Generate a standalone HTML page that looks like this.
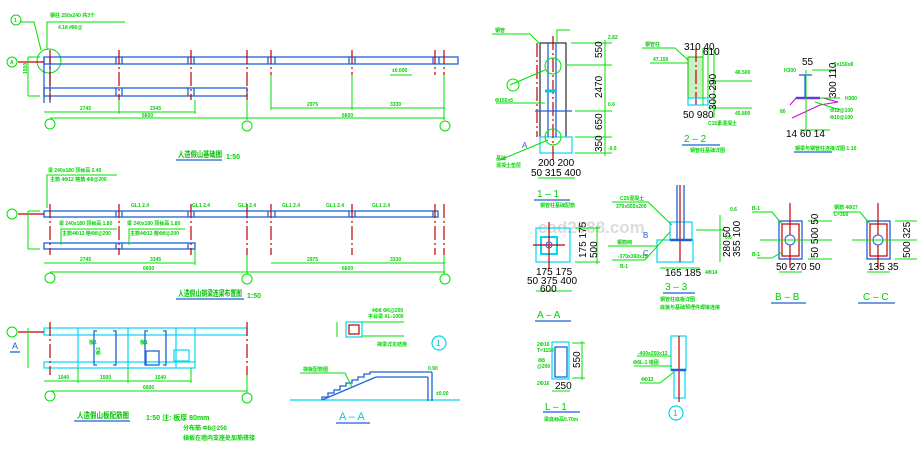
<!DOCTYPE html>
<html><head><meta charset="utf-8"><style>
html,body{margin:0;padding:0;background:#fff;width:917px;height:451px;overflow:hidden}
svg{display:block}
text{font-family:"Liberation Sans","Noto Sans CJK SC",sans-serif}
.g{stroke:#00e000;fill:none;stroke-width:1}
.b{stroke:#1f62d6;fill:none;stroke-width:1.3}
.c{stroke:#00d8f0;fill:none;stroke-width:1.2}
.r{stroke:#c00000;fill:none;stroke-width:1.2}
.rd{stroke:#c00000;fill:none;stroke-width:1.2;stroke-dasharray:14 3 2 3}
.t{fill:#00d000;font-size:5px;font-weight:bold}
.tl{fill:#00d000;font-size:10px}
.tt{fill:#00c000;font-size:8px;font-weight:bold}
.bl{fill:#1f62d6}
</style></head><body>
<svg width="917" height="451" viewBox="0 0 917 451" xmlns="http://www.w3.org/2000/svg">
<text x="538" y="233" font-size="17" fill="#dcdcdc" font-weight="bold">cad2688.com</text>

<!-- ===== PLAN 1 ===== -->
<circle class="g" cx="16" cy="20" r="5"/><text class="t" x="14" y="22">1</text>
<polyline class="g" points="21,22 34,22 41,50"/>
<circle class="g" cx="49" cy="61" r="12"/>
<polyline class="g" points="47,50 47,22 125,22"/>
<text class="t" x="50" y="17">钢柱 250x240 共3个</text>
<text class="t" x="58" y="29">4.18 #80@</text>
<rect class="b" x="44" y="57" width="414" height="7"/>
<rect class="b" x="44" y="88" width="203" height="8"/>
<line class="b" x1="44" y1="57" x2="44" y2="103"/><line class="b" x1="50" y1="57" x2="50" y2="103"/>
<g class="b"><line x1="116" y1="57" x2="116" y2="64"/><line x1="122" y1="57" x2="122" y2="64"/><line x1="188" y1="57" x2="188" y2="64"/><line x1="194" y1="57" x2="194" y2="64"/><line x1="268" y1="57" x2="268" y2="64"/><line x1="275" y1="57" x2="275" y2="64"/><line x1="349" y1="57" x2="349" y2="64"/><line x1="355" y1="57" x2="355" y2="64"/><line x1="433" y1="57" x2="433" y2="64"/><line x1="439" y1="57" x2="439" y2="64"/><line x1="116" y1="88" x2="116" y2="96"/><line x1="122" y1="88" x2="122" y2="96"/><line x1="188" y1="88" x2="188" y2="96"/><line x1="194" y1="88" x2="194" y2="96"/></g>
<g class="rd"><line x1="50" y1="50" x2="50" y2="100"/><line x1="119" y1="50" x2="119" y2="100"/><line x1="191" y1="50" x2="191" y2="100"/><line x1="247" y1="50" x2="247" y2="100"/><line x1="271" y1="50" x2="271" y2="75"/><line x1="352" y1="50" x2="352" y2="75"/><line x1="435" y1="50" x2="435" y2="75"/><line x1="444" y1="50" x2="444" y2="75"/></g>
<line class="r" x1="18" y1="62" x2="44" y2="62"/>
<circle class="g" cx="12" cy="62" r="5"/><text class="t" x="10" y="64">A</text>
<g class="g"><line x1="28" y1="57" x2="28" y2="96"/><line x1="28" y1="57" x2="40" y2="57"/><line x1="28" y1="96" x2="40" y2="96"/>
<line x1="44" y1="112" x2="195" y2="112"/><line x1="50" y1="118" x2="445" y2="118"/><line x1="271" y1="108" x2="445" y2="108"/>
<line x1="119" y1="100" x2="119" y2="114"/><line x1="195" y1="100" x2="195" y2="114"/><line x1="247" y1="100" x2="247" y2="120"/><line x1="352" y1="75" x2="352" y2="110"/><line x1="271" y1="75" x2="271" y2="110"/><line x1="444" y1="75" x2="444" y2="120"/>
<line x1="390" y1="75" x2="412" y2="75"/></g>
<text class="t" x="392" y="72">±0.000</text>
<text class="t" x="25" y="72" transform="rotate(-90 27 72)">1500</text>
<text class="t" x="80" y="110">2745</text><text class="t" x="150" y="110">2345</text><text class="t" x="142" y="117">6600</text>
<text class="t" x="307" y="106">2975</text><text class="t" x="390" y="106">3330</text><text class="t" x="342" y="117">6600</text>
<circle class="g" cx="50" cy="124" r="5"/><circle class="g" cx="247" cy="126" r="5"/><circle class="g" cx="445" cy="126" r="5"/>
<text class="tt" x="178" y="157" textLength="44" lengthAdjust="spacingAndGlyphs">人造假山基础图</text><line class="b" x1="176" y1="160" x2="222" y2="160"/><text class="t" x="226" y="159" style="font-size:7px">1:50</text>

<!-- ===== PLAN 2 ===== -->
<polyline class="g" points="47,208 47,175 117,175"/>
<text class="t" x="48" y="172">梁 240x180 顶标高 2.40</text>
<text class="t" x="50" y="181">主筋 4Φ12 箍筋 Φ8@200</text>
<rect class="b" x="44" y="211" width="394" height="6"/>
<rect class="b" x="44" y="243" width="151" height="6"/>
<line class="b" x1="116" y1="211" x2="116" y2="217"/><line class="b" x1="122" y1="211" x2="122" y2="217"/><line class="b" x1="188" y1="211" x2="188" y2="217"/><line class="b" x1="194" y1="211" x2="194" y2="217"/><line class="b" x1="268" y1="211" x2="268" y2="217"/><line class="b" x1="275" y1="211" x2="275" y2="217"/><line class="b" x1="349" y1="211" x2="349" y2="217"/><line class="b" x1="355" y1="211" x2="355" y2="217"/><line class="b" x1="433" y1="211" x2="433" y2="217"/>
<line class="b" x1="116" y1="243" x2="116" y2="249"/><line class="b" x1="122" y1="243" x2="122" y2="249"/><line class="b" x1="188" y1="243" x2="188" y2="249"/>
<g class="rd"><line x1="50" y1="204" x2="50" y2="255"/><line x1="119" y1="204" x2="119" y2="255"/><line x1="191" y1="204" x2="191" y2="255"/><line x1="247" y1="204" x2="247" y2="255"/><line x1="271" y1="204" x2="271" y2="255"/><line x1="352" y1="204" x2="352" y2="255"/><line x1="435" y1="204" x2="435" y2="255"/><line x1="444" y1="204" x2="444" y2="255"/></g>
<text class="t" x="131" y="207">GL1 2.4</text><text class="t" x="192" y="207">GL1 2.4</text><text class="t" x="238" y="207">GL1 2.4</text><text class="t" x="282" y="207">GL1 2.4</text><text class="t" x="326" y="207">GL1 2.4</text><text class="t" x="372" y="207">GL1 2.4</text>
<text class="t" x="59" y="225">梁 240x180 顶标高 1.80</text><text class="t" x="127" y="225">梁 240x180 顶标高 1.80</text>
<polyline class="g" points="61,245 61,229 117,229"/><polyline class="g" points="129,245 129,229 185,229"/>
<text class="t" x="62" y="235">主筋4Φ12 箍Φ8@200</text><text class="t" x="130" y="235">主筋4Φ12 箍Φ8@200</text>
<line class="r" x1="18" y1="214" x2="44" y2="214"/><circle class="g" cx="12" cy="214" r="5"/>
<g class="g"><line x1="28" y1="211" x2="28" y2="249"/><line x1="28" y1="211" x2="40" y2="211"/><line x1="28" y1="249" x2="40" y2="249"/>
<line x1="44" y1="263" x2="195" y2="263"/><line x1="50" y1="272" x2="445" y2="272"/><line x1="271" y1="263" x2="445" y2="263"/>
<line x1="247" y1="255" x2="247" y2="274"/><line x1="444" y1="255" x2="444" y2="274"/><line x1="195" y1="249" x2="195" y2="265"/></g>
<text class="t" x="80" y="261">2745</text><text class="t" x="150" y="261">3345</text><text class="t" x="143" y="270">6600</text><text class="t" x="307" y="261">2975</text><text class="t" x="390" y="261">3330</text><text class="t" x="342" y="270">6600</text>
<circle class="g" cx="50" cy="278" r="5"/><circle class="g" cx="247" cy="279" r="5"/><circle class="g" cx="445" cy="279" r="5"/>
<text class="tt" x="178" y="296" textLength="64" lengthAdjust="spacingAndGlyphs">人造假山钢梁连梁布置图</text><line class="b" x1="176" y1="299" x2="244" y2="299"/><text class="t" x="247" y="298" style="font-size:7px">1:50</text>

<!-- ===== PLAN 3 ===== -->
<rect class="c" x="44" y="328" width="203" height="7"/>
<rect class="c" x="44" y="362" width="151" height="6"/>
<g class="c"><line x1="78" y1="328" x2="78" y2="368"/><line x1="128" y1="328" x2="128" y2="368"/><line x1="176" y1="328" x2="176" y2="368"/><line x1="195" y1="328" x2="195" y2="362"/></g>
<g class="b"><polyline points="97,331 94,331 94,365 97,365"/><polyline points="113,331 116,331 116,365 113,365"/><polyline points="148,331 145,331 145,365 148,365"/><polyline points="163,331 166,331 166,365 163,365"/><rect x="146" y="351" width="13" height="14"/></g>
<rect class="c" x="174" y="350" width="15" height="11"/>
<g class="rd"><line x1="50" y1="322" x2="50" y2="375"/><line x1="247" y1="322" x2="247" y2="375"/></g>
<text class="t" x="89" y="344">板1</text><text class="t" x="140" y="344">板1</text><text class="t" x="100" y="355" transform="rotate(-90 100 355)">板2</text>
<line class="r" x1="18" y1="332" x2="44" y2="332"/><circle class="g" cx="12" cy="332" r="5"/>
<text x="12" y="349" fill="#1f62d6" font-size="9">A</text><line class="b" x1="10" y1="352" x2="20" y2="352"/>
<g class="g"><line x1="28" y1="328" x2="28" y2="368"/><line x1="44" y1="381" x2="191" y2="381"/><line x1="50" y1="391" x2="247" y2="391"/><line x1="78" y1="368" x2="78" y2="383"/><line x1="128" y1="368" x2="128" y2="383"/><line x1="191" y1="368" x2="191" y2="383"/><line x1="247" y1="375" x2="247" y2="393"/></g>
<text class="t" x="58" y="379">1040</text><text class="t" x="100" y="379">1500</text><text class="t" x="155" y="379">1540</text><text class="t" x="143" y="389">6600</text>
<circle class="g" cx="50" cy="396" r="5"/><circle class="g" cx="247" cy="398" r="5"/>
<text class="tt" x="77" y="418" textLength="52" lengthAdjust="spacingAndGlyphs">人造假山板配筋图</text><line class="b" x1="74" y1="421" x2="130" y2="421"/>
<text class="t" x="146" y="420" style="font-size:7px">1:50 注: 板厚 80mm</text>
<text class="t" x="183" y="430" style="font-size:6px">分布筋 Φ8@250</text>
<text class="t" x="183" y="440" style="font-size:6px">梯板在墙内支座处加筋搭接</text>

<rect class="c" x="346" y="322" width="16" height="15"/><rect class="r" x="349" y="325" width="10" height="9"/>
<g class="g"><line x1="362" y1="322" x2="404" y2="322"/><line x1="362" y1="336" x2="404" y2="336"/><line x1="337" y1="322" x2="337" y2="337"/></g>
<text class="t" x="372" y="312">4Φ8 Φ6@200</text><text class="t" x="368" y="318">平台梁 XL-1000</text><text class="t" x="377" y="346">梯梁详见结施</text>
<circle class="c" cx="439" cy="343" r="7"/><text x="436" y="346" fill="#00b8d0" font-size="8">1</text>
<line class="c" x1="290" y1="400" x2="460" y2="400"/>
<polyline class="b" points="322,400 322,397 328,397 328,393 334,393 334,390 340,390 340,386 346,386 346,383 352,383 352,380 358,380 358,377 364,377 364,374 370,374 370,372 375,372 432,372"/>
<line class="b" x1="322" y1="400" x2="376" y2="377"/><line class="b" x1="376" y1="377" x2="428" y2="377"/>
<line class="b" x1="428" y1="377" x2="428" y2="401"/><line class="b" x1="432" y1="372" x2="432" y2="401"/>
<polyline class="g" points="300,373 345,373 352,387"/><text class="t" x="303" y="371">梯板配筋图</text>
<text class="t" x="428" y="370">0.90</text><text class="t" x="436" y="395">±0.00</text>
<text x="339" y="420" fill="#00c8e0" font-size="11">A – A</text><line class="b" x1="336" y1="423" x2="370" y2="423"/>

<!-- ===== 1-1 column ===== -->
<rect x="540" y="43" width="26" height="94" fill="none" stroke="#000" stroke-width="1"/>
<rect class="c" x="540" y="137" width="32" height="16"/>
<g class="rd"><line x1="537" y1="43" x2="537" y2="137"/><line x1="553" y1="36" x2="553" y2="160"/></g>
<line class="b" x1="548" y1="43" x2="548" y2="137"/><line class="b" x1="556" y1="43" x2="556" y2="137"/>
<line class="b" x1="535" y1="111" x2="572" y2="111"/><line class="b" x1="545" y1="91" x2="555" y2="91" style="stroke:#00c8e0;stroke-width:3"/>
<circle class="g" cx="553" cy="66" r="8"/><circle class="g" cx="553" cy="137" r="8"/>
<g class="g"><line x1="571" y1="43" x2="612" y2="43"/><line x1="566" y1="65" x2="612" y2="65"/><line x1="575" y1="111" x2="612" y2="111"/><line x1="575" y1="137" x2="612" y2="137"/><line x1="575" y1="153" x2="612" y2="153"/><line x1="605" y1="40" x2="605" y2="156"/>
<polyline points="492,34 530,34 540,44"/><polyline points="496,103 545,103"/><polyline points="557,42 557,30 570,30"/><line x1="510" y1="85" x2="545" y2="70"/><line x1="500" y1="160" x2="548" y2="140"/></g>
<circle class="g" cx="513" cy="85" r="6"/>
<text class="t" x="495" y="32">钢管</text><text class="t" x="495" y="102">Φ150x5</text><text class="t" x="496" y="160">基础</text><text class="t" x="496" y="167">混凝土垫层</text>
<text class="t" x="608" y="39">2.82</text><text class="t" x="608" y="106">0.6</text><text class="t" x="608" y="150">-0.6</text>
<text class="tl" x="602" y="58" transform="rotate(-90 602 58)" style="fill:#000">550</text><text class="tl" x="602" y="98" transform="rotate(-90 602 98)" style="fill:#000">2470</text><text class="tl" x="602" y="130" transform="rotate(-90 602 130)" style="fill:#000">650</text><text class="tl" x="602" y="152" transform="rotate(-90 602 152)" style="fill:#000">350</text>
<text x="522" y="148" class="bl" font-size="8">A</text>
<text class="tl" x="538" y="166" style="fill:#000">200 200</text><text class="tl" x="531" y="176" style="fill:#000">50 315 400</text>
<line class="g" x1="538" y1="178" x2="575" y2="178"/>
<text class="tl" x="537" y="197">1 – 1</text><line class="b" x1="534" y1="200" x2="570" y2="200"/><text class="t" x="540" y="207">钢管柱基础配筋</text>

<!-- ===== 2-2 ===== -->
<rect x="688" y="57" width="15" height="41" fill="#c8f0c0" stroke="#00c000"/>
<line class="rd" x1="696" y1="48" x2="696" y2="105"/>
<rect class="c" x="688" y="98" width="20" height="7"/>
<g class="g"><line x1="703" y1="48" x2="703" y2="105"/><line x1="708" y1="48" x2="708" y2="98"/><line x1="714" y1="50" x2="714" y2="118"/><line x1="708" y1="81" x2="752" y2="81"/><line x1="708" y1="108" x2="752" y2="108"/><polyline points="642,48 675,48 688,60"/><line x1="650" y1="63" x2="688" y2="63"/></g>
<text class="t" x="645" y="46">钢管柱</text><text class="t" x="653" y="61">47.150</text>
<text class="tl" x="684" y="50" style="fill:#000">310 40</text><text class="tl" x="703" y="55" style="fill:#000">610</text>
<text class="tl" x="716" y="110" transform="rotate(-90 716 110)" style="fill:#000">300 290</text>
<text class="tl" x="683" y="118" style="fill:#000">50 980</text>
<text class="t" x="735" y="74">46.500</text><text class="t" x="735" y="115">45.800</text><text class="t" x="708" y="125">C15素混凝土</text>
<text class="tl" x="684" y="142">2 – 2</text><line class="b" x1="682" y1="145" x2="720" y2="145"/><text class="t" x="690" y="152">钢管柱基础详图</text>

<!-- ===== H detail ===== -->
<line class="b" x1="799" y1="75" x2="812" y2="75"/><line class="b" x1="805" y1="75" x2="805" y2="98"/>
<line class="b" x1="796" y1="98" x2="820" y2="98" style="stroke-width:2.5"/>
<polyline points="790,105 796,98 823,98 838,102 820,105 792,118" fill="none" stroke="#d000d0"/>
<g class="g"><line x1="806" y1="70" x2="806" y2="130"/><line x1="812" y1="70" x2="835" y2="70"/><line x1="820" y1="98" x2="840" y2="98"/><line x1="800" y1="130" x2="830" y2="130"/><line x1="815" y1="102" x2="840" y2="110"/></g>
<text class="tl" x="802" y="65" style="fill:#000">55</text>
<text class="tl" x="836" y="98" transform="rotate(-90 836 98)" style="fill:#000">300 110</text>
<text class="tl" x="786" y="137" style="fill:#000">14 60 14</text>
<text class="t" x="784" y="72">H300</text><text class="t" x="832" y="66">-7x150x8</text><text class="t" x="845" y="100">H300</text><text class="t" x="830" y="112">Φ12@100</text><text class="t" x="830" y="119">Φ10@100</text><text class="t" x="780" y="113">80</text>
<text class="t" x="795" y="150">钢梁与钢管柱连接详图 1:10</text><line class="b" x1="794" y1="152" x2="832" y2="152"/>

<!-- ===== A-A plan ===== -->
<rect class="c" x="536" y="228" width="34" height="34"/><rect class="c" x="541" y="237" width="16" height="17" style="stroke-width:2"/>
<line class="r" x1="533" y1="245" x2="565" y2="245"/><line class="r" x1="549" y1="222" x2="549" y2="268"/>
<circle cx="549" cy="245" r="3" fill="none" stroke="#1f62d6"/>
<g class="g"><line x1="575" y1="228" x2="600" y2="228"/><line x1="575" y1="262" x2="600" y2="262"/><line x1="597" y1="226" x2="597" y2="264"/><line x1="536" y1="291" x2="572" y2="291"/></g>
<text class="tl" x="586" y="258" transform="rotate(-90 586 258)" style="fill:#000">175 175</text>
<text class="tl" x="597" y="258" transform="rotate(-90 597 258)" style="fill:#000">500</text>
<text class="tl" x="536" y="275" style="fill:#000">175 175</text><text class="tl" x="527" y="284" style="fill:#000">50 375 400</text><text class="tl" x="540" y="292" style="fill:#000">600</text>
<text class="tl" x="537" y="318">A – A</text><line class="b" x1="535" y1="321" x2="571" y2="321"/>

<!-- ===== 3-3 ===== -->
<rect class="c" x="670" y="222" width="22" height="18"/><rect class="c" x="657" y="240" width="36" height="22"/>
<line class="b" x1="677" y1="185" x2="677" y2="240"/><line class="b" x1="684" y1="185" x2="684" y2="240"/><line class="r" x1="680" y1="185" x2="680" y2="262"/>
<line class="b" x1="670" y1="240" x2="692" y2="240" style="stroke-width:2.5"/>
<g class="g"><polyline points="612,202 648,202 672,225"/><line x1="608" y1="246" x2="657" y2="246"/><polyline points="612,260 645,260 670,232"/><line x1="696" y1="230" x2="725" y2="230"/><line x1="720" y1="215" x2="720" y2="262"/><line x1="660" y1="268" x2="700" y2="268"/></g>
<text class="t" x="620" y="200">C25混凝土</text><text class="t" x="616" y="208">370x555x200</text><text class="t" x="617" y="244">钢筋网</text><text class="t" x="618" y="258">-370x360x15</text><text class="t" x="620" y="268">B-1</text>
<text x="643" y="238" class="bl" font-size="8">B</text><text x="643" y="256" class="bl" font-size="8">C</text>
<text class="tl" x="730" y="257" transform="rotate(-90 730 257)" style="fill:#000">280 50</text><text class="tl" x="740" y="257" transform="rotate(-90 740 257)" style="fill:#000">355 100</text>
<text class="t" x="730" y="211">0.6</text><text class="t" x="725" y="239">0.6</text>
<text class="tl" x="665" y="276" style="fill:#000">165 185</text><text class="t" x="705" y="274">4Φ14</text>
<text class="tl" x="665" y="290">3 – 3</text><line class="b" x1="663" y1="293" x2="695" y2="293"/>
<text class="t" x="660" y="301">钢管柱底板详图</text><text class="t" x="660" y="309">底板与基础预埋件焊接连接</text>

<!-- ===== B-B ===== -->
<rect class="b" x="779" y="221" width="23" height="38"/><rect class="r" x="782" y="224" width="17" height="32"/>
<line class="r" x1="790" y1="203" x2="790" y2="268"/><circle cx="790" cy="240" r="5" fill="#fff" stroke="#1f62d6"/>
<g class="g"><line x1="760" y1="240" x2="832" y2="240"/><polyline points="752,212 772,212 782,224"/><polyline points="757,258 772,258 782,252"/><line x1="808" y1="221" x2="832" y2="221"/><line x1="808" y1="259" x2="832" y2="259"/><line x1="779" y1="272" x2="802" y2="272"/></g>
<text class="t" x="752" y="210">B-1</text><text class="t" x="752" y="256">B-1</text>
<text class="tl" x="818" y="258" transform="rotate(-90 818 258)" style="fill:#000">50 500 50</text>
<text class="tl" x="776" y="270" style="fill:#000">50 270 50</text>
<text class="tl" x="775" y="300">B – B</text><line class="b" x1="771" y1="303" x2="806" y2="303"/>

<!-- ===== C-C ===== -->
<rect class="b" x="867" y="221" width="23" height="38"/><rect class="r" x="870" y="224" width="17" height="32"/>
<line class="r" x1="878" y1="203" x2="878" y2="268"/><circle cx="878" cy="240" r="5" fill="#fff" stroke="#1f62d6"/>
<g class="g"><line x1="852" y1="240" x2="917" y2="240"/><polyline points="833,212 860,212 870,224"/><line x1="895" y1="221" x2="917" y2="221"/><line x1="895" y1="259" x2="917" y2="259"/><line x1="867" y1="272" x2="890" y2="272"/></g>
<text class="t" x="834" y="209">钢筋 4Φ27</text><text class="t" x="834" y="216">L=350</text>
<text class="tl" x="910" y="258" transform="rotate(-90 910 258)" style="fill:#000">500 325</text>
<text class="tl" x="868" y="270" style="fill:#000">135 35</text>
<text class="tl" x="863" y="300">C – C</text><line class="b" x1="858" y1="303" x2="895" y2="303"/>

<!-- ===== L-1 ===== -->
<rect class="c" x="552" y="342" width="17" height="37"/><rect class="b" x="555" y="347" width="12" height="30"/>
<g class="g"><line x1="572" y1="343" x2="585" y2="343"/><line x1="572" y1="378" x2="585" y2="378"/><line x1="582" y1="341" x2="582" y2="380"/><line x1="552" y1="391" x2="570" y2="391"/></g>
<text class="tl" x="580" y="368" transform="rotate(-90 580 368)" style="fill:#000">550</text>
<text class="t" x="537" y="346">2Φ16</text><text class="t" x="537" y="352">T=1150</text><text class="t" x="538" y="362">Φ8</text><text class="t" x="537" y="368">@200</text><text class="t" x="537" y="385">2Φ16</text>
<text class="tl" x="555" y="389" style="fill:#000">250</text>
<text class="tl" x="545" y="410">L – 1</text><line class="b" x1="543" y1="412" x2="580" y2="412"/><text class="t" x="544" y="421">梁底标高0.70m</text>

<!-- ===== detail 1 ===== -->
<rect class="c" x="671" y="336" width="15" height="34"/><rect class="c" x="674" y="370" width="11" height="28"/>
<line class="r" x1="679" y1="336" x2="679" y2="402"/>
<line class="b" x1="671" y1="370" x2="686" y2="370" style="stroke-width:2.5"/>
<g class="g"><line x1="637" y1="356" x2="671" y2="356"/><line x1="634" y1="366" x2="672" y2="366"/><polyline points="640,383 660,383 674,372"/></g>
<text class="t" x="638" y="355">-400x250x12</text><text class="t" x="633" y="364">Φ8L-1 锚固</text><text class="t" x="641" y="381">4Φ12</text>
<circle class="c" cx="676" cy="413" r="7"/><text x="673" y="416" fill="#00b8d0" font-size="8">1</text>
</svg>
</body></html>
